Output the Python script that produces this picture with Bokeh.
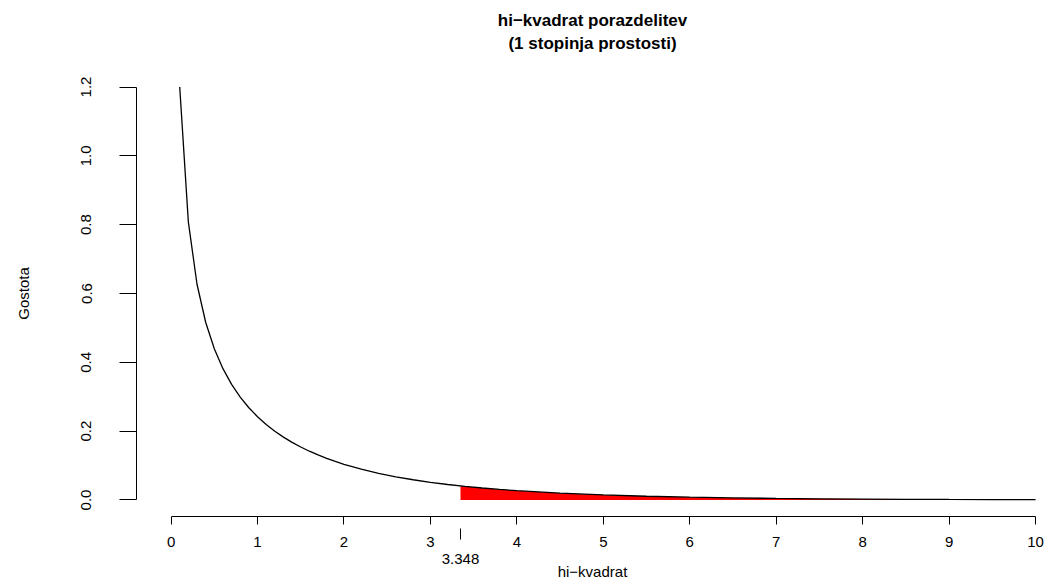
from bokeh.plotting import figure
from bokeh.models import Range1d, LinearAxis, FixedTicker, Title
from bokeh.embed import file_html
from bokeh.resources import INLINE

# ---- data ----
x_vals = [0.1, 0.2, 0.3, 0.4, 0.5, 0.6, 0.7, 0.8, 0.9, 1.0,
          1.1, 1.2, 1.3, 1.4, 1.5, 1.6, 1.7, 1.8, 1.9, 2.0,
          2.2, 2.4, 2.6, 2.8, 3.0, 3.2, 3.4, 3.6, 3.8, 4.0,
          4.5, 5.0, 5.5, 6.0, 6.5, 7.0, 7.5, 8.0, 8.5, 9.0, 9.5, 10.0]
density = [1.2000, 0.8072, 0.6269, 0.5165, 0.4394, 0.3816, 0.3360, 0.2990, 0.2681, 0.2420,
           0.2195, 0.1999, 0.1827, 0.1674, 0.1539, 0.1417, 0.1308, 0.1209, 0.1119, 0.1038,
           0.0895, 0.0776, 0.0674, 0.0588, 0.0514, 0.0450, 0.0395, 0.0348, 0.0306, 0.0270,
           0.0198, 0.0146, 0.0109, 0.0081, 0.0061, 0.0046, 0.0034, 0.0026, 0.0020, 0.0015, 0.0011, 0.0009]
crit_value = 3.348
crit_density = 0.0409
crit_label = "3.348"

x_ticks = [0, 1, 2, 3, 4, 5, 6, 7, 8, 9, 10]
x_tick_labels = ["0", "1", "2", "3", "4", "5", "6", "7", "8", "9", "10"]
y_ticks = [0.0, 0.2, 0.4, 0.6, 0.8, 1.0, 1.2]
y_tick_labels = ["0.0", "0.2", "0.4", "0.6", "0.8", "1.0", "1.2"]

title_line1 = "hi−kvadrat porazdelitev"
title_line2 = "(1 stopinja prostosti)"
x_label = "hi−kvadrat"
y_label = "Gostota"

# ---- derived tail for shaded region ----
tail_x = [crit_value] + [x for x in x_vals if x > crit_value]
tail_y = [crit_density] + [d for x, d in zip(x_vals, density) if x > crit_value]

FONT = "Liberation Sans"

p = figure(width=1048, height=582,
           x_range=Range1d(-0.4, 10.15), y_range=Range1d(-0.048, 1.248),
           output_backend="svg", toolbar_location=None,
           x_axis_type=None, y_axis_type=None, title=None,
           min_border_left=136, min_border_right=0,
           min_border_top=70, min_border_bottom=66)
p.outline_line_color = None
p.background_fill_color = "white"
p.border_fill_color = "white"

# shaded tail and curve
p.varea(x=tail_x, y1=[0] * len(tail_x), y2=tail_y, fill_color="#ff0000", fill_alpha=1.0)
p.line(x=x_vals, y=density, line_color="black", line_width=1.3)

# ---- y axis ----
yaxis = LinearAxis(ticker=FixedTicker(ticks=y_ticks, minor_ticks=[]), bounds=(0, 1.2))
yaxis.major_label_overrides = {t: l for t, l in zip(y_ticks, y_tick_labels)}
yaxis.major_label_orientation = "vertical"
yaxis.major_tick_out = 17
yaxis.major_tick_in = 0
yaxis.minor_tick_out = 0
yaxis.minor_tick_in = 0
yaxis.major_label_standoff = 28
yaxis.major_label_text_font = FONT
yaxis.major_label_text_font_size = "15px"
yaxis.major_label_text_color = "black"
yaxis.axis_line_color = "black"
yaxis.major_tick_line_color = "black"
yaxis.axis_label = y_label
yaxis.axis_label_text_font = FONT
yaxis.axis_label_text_font_size = "15px"
yaxis.axis_label_text_font_style = "normal"
yaxis.axis_label_text_color = "black"
yaxis.axis_label_standoff = 47
p.add_layout(yaxis, "left")

# ---- main x axis ----
xaxis = LinearAxis(ticker=FixedTicker(ticks=x_ticks, minor_ticks=[]), bounds=(0, 10))
xaxis.major_label_overrides = {t: l for t, l in zip(x_ticks, x_tick_labels)}
xaxis.major_tick_out = 8
xaxis.major_tick_in = 0
xaxis.minor_tick_out = 0
xaxis.minor_tick_in = 0
xaxis.major_label_standoff = 12
xaxis.major_label_text_font = FONT
xaxis.major_label_text_font_size = "15px"
xaxis.major_label_text_color = "black"
xaxis.axis_line_color = "black"
xaxis.major_tick_line_color = "black"
p.add_layout(xaxis, "below")

# ---- critical value axis ----
caxis = LinearAxis(ticker=FixedTicker(ticks=[crit_value], minor_ticks=[]))
caxis.major_label_overrides = {crit_value: crit_label}
caxis.axis_line_color = None
caxis.major_tick_line_color = "black"
caxis.major_tick_in = 21
caxis.major_tick_out = -10
caxis.minor_tick_out = 0
caxis.minor_tick_in = 0
caxis.major_label_standoff = 4
caxis.major_label_text_font = FONT
caxis.major_label_text_font_size = "15px"
caxis.major_label_text_color = "black"
caxis.axis_label = x_label
caxis.axis_label_text_font = FONT
caxis.axis_label_text_font_size = "15px"
caxis.axis_label_text_font_style = "normal"
caxis.axis_label_text_color = "black"
caxis.axis_label_standoff = -4
p.add_layout(caxis, "below")

# ---- titles ----
p.add_layout(Title(text=title_line2, align="center", offset=3, standoff=36,
                   text_font=FONT, text_font_size="17px", text_font_style="bold",
                   text_color="black"), "above")
p.add_layout(Title(text=title_line1, align="center", offset=3, standoff=-33,
                   text_font=FONT, text_font_size="17px", text_font_style="bold",
                   text_color="black"), "above")

open("out.html", "w").write(file_html(p, INLINE))
